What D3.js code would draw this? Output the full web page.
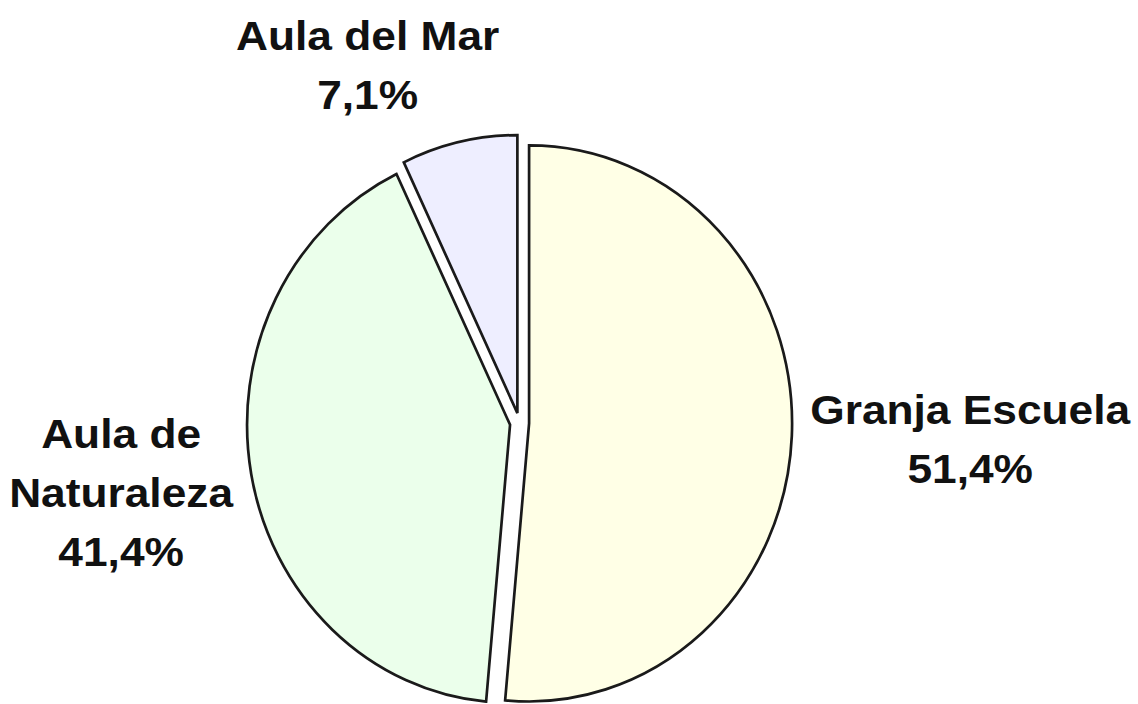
<!DOCTYPE html>
<html>
<head>
<meta charset="utf-8">
<title>Pie</title>
<script src="https://d3js.org/d3.v7.min.js"></script>
<style>
	body { margin: 0; background: #fff; }
	.slice { stroke: #1a1a1a; stroke-width: 2.7px; vector-effect: non-scaling-stroke; }
	.label { font-family: "Liberation Sans", Arial, sans-serif; font-weight: bold; font-size: 40px; fill: #111; }
</style>
</head>
<body>
<svg id="chart" width="1138" height="704"></svg>
<script>
	// data
	var categories = ["Granja Escuela", "Aula de Naturaleza", "Aula del Mar"];
	var values = [51.4, 41.4, 7.1];
	var labelLines = [["Granja Escuela"], ["Aula de", "Naturaleza"], ["Aula del Mar"]];
	var colors = ["#FFFFE6", "#EBFFEB", "#EEEEFF"];

	var width = 1138, height = 704;
	var cx = 519.5, cy = 423;
	var radius = 263, squash = 1.057;   // picture is a bit taller than wide
	var explode = 9.6;
	var labelRadius = 291;
	var lineHeight = 59;
	var stretch = 1.107;                 // label glyphs are wide in the original

	var es = d3.formatLocale({ decimal: ",", thousands: ".", grouping: [3], currency: ["", "€"] });
	var pct = es.format(".1f");

	var data = categories.map(function(c, i) {
		return { name: c, value: values[i], lines: labelLines[i], color: colors[i] };
	});

	var pie = d3.pie().sort(null).value(function(d) { return d.value; });
	var arc = d3.arc().innerRadius(0).outerRadius(radius);
	var arcs = pie(data);

	var svg = d3.select("#chart");

	var g = svg.append("g")
		.attr("transform", "translate(" + cx + "," + cy + ") scale(1," + squash + ")");

	g.selectAll("path")
		.data(arcs)
		.enter().append("path")
		.attr("class", "slice")
		.attr("fill", function(d) { return d.data.color; })
		.attr("transform", function(d) {
			var a = (d.startAngle + d.endAngle) / 2;
			return "translate(" + (Math.sin(a) * explode) + "," + (-Math.cos(a) * explode) + ")";
		})
		.attr("d", arc);

	// labels, pushed outward from a point just outside the pie
	arcs.forEach(function(d) {
		var a = (d.startAngle + d.endAngle) / 2;
		var s = Math.sin(a), c = Math.cos(a);
		var px = cx + s * labelRadius;
		var py = cy - c * labelRadius * squash;
		var lines = d.data.lines.concat([pct(d.data.value) + "%"]);

		var t = svg.append("g").attr("class", "label");
		var texts = t.selectAll("text")
			.data(lines)
			.enter().append("text")
			.attr("text-anchor", "middle")
			.attr("x", 0)
			.text(function(l) { return l; });

		var w = stretch * d3.max(texts.nodes(), function(n) { return n.getComputedTextLength(); });
		var h = lines.length * lineHeight;
		var push = Math.min(1, Math.abs(s) * 3) * (s < 0 ? -1 : 1);
		var bx = px + push * w / 2;
		var by = py - c * h / 2;

		t.attr("transform", "translate(" + bx + ",0) scale(" + stretch + ",1)");
		texts.attr("y", function(l, i) { return by - h / 2 + (i + 0.5) * lineHeight + 14; });
	});
</script>
</body>
</html>
